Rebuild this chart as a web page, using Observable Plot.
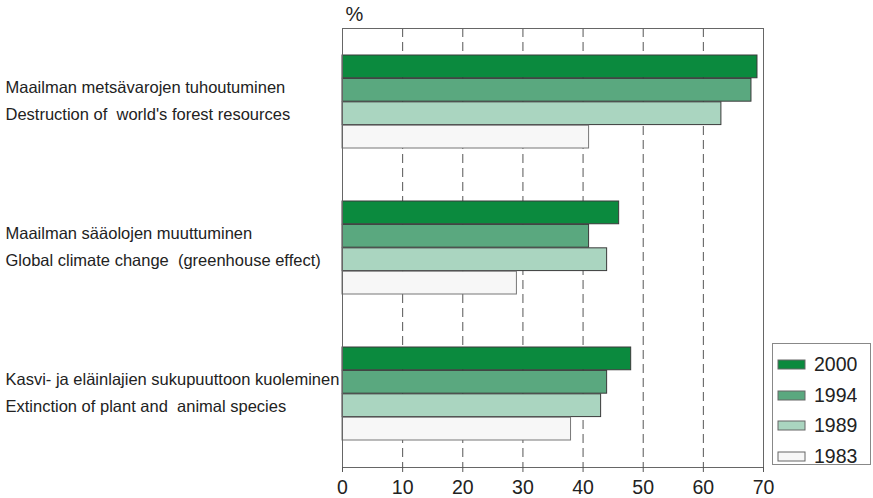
<!DOCTYPE html>
<html>
<head>
<meta charset="utf-8">
<script src="https://cdn.jsdelivr.net/npm/d3@7"></script>
<script src="https://cdn.jsdelivr.net/npm/@observablehq/plot@0.6"></script>
<style>
  html, body { margin: 0; padding: 0; background: #fff; }
  #wrap { position: relative; width: 873px; height: 498px; }
  #legendbox {
    position: absolute; left: 772px; top: 343px; width: 99px; height: 122px;
    border: 1px solid #888; box-sizing: border-box; padding: 6px 0 0 5px; background: #fff;
  }
  .lg-swatches { margin: 0 !important; font-family: 'Liberation Sans Narrow', 'Liberation Sans', sans-serif; font-size: 19.5px; color: #222; }
  .lg-swatch { height: 29.5px; display: flex; align-items: center; margin: 0 !important; }
  .lg-swatch svg { overflow: visible; margin-right: 9px !important; }
  .lg-swatch svg rect { stroke: #666; stroke-width: 1px; }
</style>
</head>
<body>
<div id="wrap"></div>
<script>
const categories = [
  "Destruction of world's forest resources",
  "Global climate change (greenhouse effect)",
  "Extinction of plant and animal species"
];
const labelsFi = [
  "Maailman metsävarojen tuhoutuminen",
  "Maailman sääolojen muuttuminen",
  "Kasvi- ja eläinlajien sukupuuttoon kuoleminen"
];
const labelsEn = [
  "Destruction of  world's forest resources",
  "Global climate change  (greenhouse effect)",
  "Extinction of plant and  animal species"
];
const years = ["2000", "1994", "1989", "1983"];
const values2000 = [69, 46, 48];
const values1994 = [68, 41, 44];
const values1989 = [63, 44, 43];
const values1983 = [41, 29, 38];
const xTicks = [0, 10, 20, 30, 40, 50, 60, 70];
const gridTicks = [10, 20, 30, 40, 50, 60];
const colors = ["#0b8a3e", "#5aa87f", "#aad5c0", "#f7f7f7"];

const seriesValues = [values2000, values1994, values1989, values1983];
const data = [];
years.forEach((yr, k) => categories.forEach((c, i) => data.push({category: c, year: yr, value: seriesValues[k][i]})));

const W = 873, H = 498, mT = 28, mB = 31, mL = 342, mR = 110;
const pI = 0.36, pO = 0.18;
const step = (H - mT - mB) / (categories.length - pI + 2 * pO);
const bh = step * (1 - pI) / years.length;

const font = "'Liberation Sans Narrow', 'Liberation Sans', sans-serif";

const barMarks = years.map((yr, k) => Plot.barX(data.filter(d => d.year === yr), {
  x: "value", y: "category", fill: "year",
  stroke: k === 3 ? "#777" : "#3a3a3a", strokeWidth: 1,
  insetTop: k * bh, insetBottom: (years.length - 1 - k) * bh
}));

const chart = Plot.plot({
  width: W, height: H,
  marginTop: mT, marginBottom: mB, marginLeft: mL, marginRight: mR,
  style: {fontFamily: font, color: "#222", background: "#fff"},
  x: {domain: [0, 70]},
  y: {domain: categories, paddingInner: pI, paddingOuter: pO, axis: null},
  color: {domain: years, range: colors},
  marks: [
    Plot.ruleX(gridTicks, {stroke: "#555", strokeWidth: 1, strokeDasharray: "9,5"}),
    ...barMarks,
    Plot.frame({stroke: "#666", strokeWidth: 1}),
    Plot.axisX({ticks: xTicks, tickSize: 5, tickPadding: 8, fontSize: 19.5, label: null, stroke: "#555", tickFormat: d => String(d)}),
    Plot.text(categories, {
      y: d => d,
      text: (d, i) => labelsFi[i] + "\n" + labelsEn[i],
      frameAnchor: "left", dx: -337, dy: -4, textAnchor: "start",
      fontSize: 16.5, lineHeight: 1.6, fill: "#222",
      fontFamily: "'Liberation Sans', Arial, sans-serif"
    }),
    Plot.text(["%"], {frameAnchor: "top-left", dx: 3, dy: -14, textAnchor: "start", lineAnchor: "middle", fontSize: 20, fill: "#222", fontFamily: "'Liberation Sans', sans-serif"})
  ]
});

const wrap = document.getElementById("wrap");
wrap.appendChild(chart);

const box = document.createElement("div");
box.id = "legendbox";
const legend = Plot.legend({
  color: {domain: years, range: colors},
  legend: "swatches", columns: 1, swatchWidth: 27, swatchHeight: 9, className: "lg"
});
box.appendChild(legend);
wrap.appendChild(box);
</script>
</body>
</html>
